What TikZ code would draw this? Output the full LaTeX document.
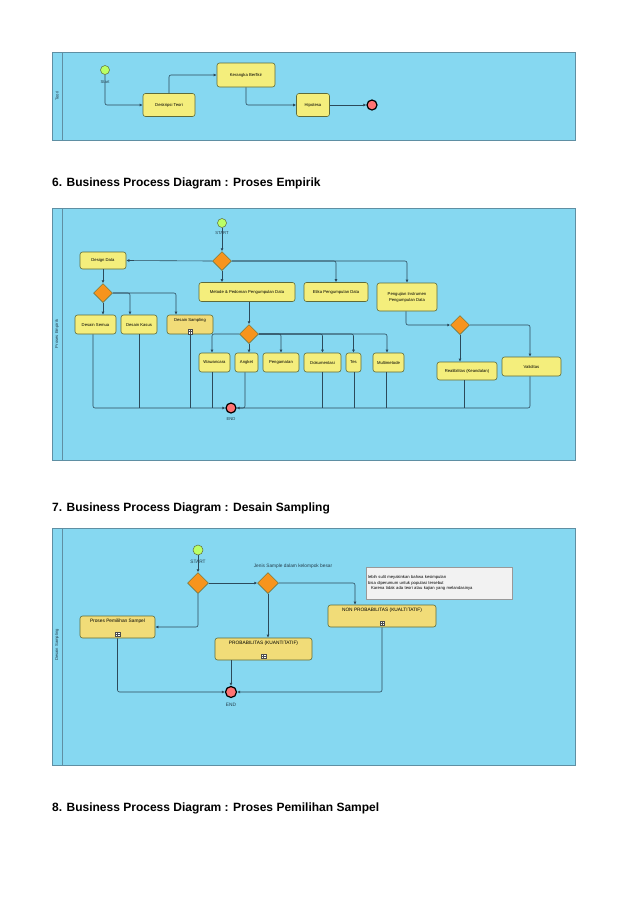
\documentclass[tikz,border=0pt]{standalone}
\usepackage{fontspec}
\setmainfont{Liberation Sans}
\usetikzlibrary{shapes.geometric,arrows.meta}
\definecolor{lane}{HTML}{86D8F1}
\definecolor{laneb}{HTML}{5F8FA3}
\definecolor{boxf}{HTML}{F4EE7C}
\definecolor{boxg}{HTML}{F1DC78}
\definecolor{boxb}{HTML}{5E6B3A}
\definecolor{dia}{HTML}{F7941D}
\definecolor{ln}{HTML}{2C4A5A}
\begin{document}
\begin{tikzpicture}[x=1pt,y=-1pt,
  lanebox/.style={draw=laneb,fill=lane,line width=0.8pt},
  task/.style={draw=boxb,fill=boxf,rounded corners=2.5pt,line width=0.6pt,font=\fontsize{4.2}{5}\selectfont,align=center,inner sep=0pt},
  sub/.style={task,fill=boxg},
  gw/.style={diamond,draw=boxb,fill=dia,line width=0.5pt,minimum size=19pt,inner sep=0pt},
  st/.style={circle,draw=boxb,fill=green!45!yellow!60,minimum size=9pt,inner sep=0pt,line width=0.5pt},
  en/.style={circle,draw=black,fill=red!55,minimum size=10pt,inner sep=0pt,line width=1.2pt},
  lbl/.style={font=\fontsize{4.2}{5}\selectfont,text=ln!80!black,inner sep=0pt},
  fl/.style={draw=ln,line width=0.6pt,rounded corners=2pt,-{Latex[length=3pt,width=3pt]}},
  pl/.style={draw=ln,line width=0.6pt,rounded corners=2pt},
  ttl/.style={font=\bfseries\fontsize{12}{14}\selectfont,anchor=west,inner sep=0pt},
  mk/.style={draw=black!70,fill=white,minimum size=4.5pt,inner sep=0pt,line width=0.3pt,
    path picture={\draw[black!70,line width=0.3pt] (path picture bounding box.north)--(path picture bounding box.south) (path picture bounding box.west)--(path picture bounding box.east);}}
]
\useasboundingbox[fill=white] (0,0) rectangle (638,903);
% ===== Panel 1 =====
\draw[lanebox] (52,52) rectangle (575,140);
\draw[laneb,line width=0.8pt] (62,52)--(62,140);
\node[lbl,rotate=90] (l1) at (57,96) {Teori};
\node[st] (s1) at (105,70) {};
\node[lbl] (s1t) at (105,82) {Start};
\node[task,minimum width=52pt,minimum height=23pt] (dt) at (169,105) {Deskripsi Teori};
\node[task,minimum width=58pt,minimum height=24pt] (kb) at (246,75) {Kerangka Berfikir};
\node[task,minimum width=33pt,minimum height=23pt] (hp) at (313,105) {Hipotesa};
\node[en] (e1) at (372,105) {};
\draw[fl] (s1.south) |- (dt.west);
\draw[fl] (dt.north) |- (kb.west);
\draw[fl] (kb.south) |- (hp.west);
\draw[fl] (hp.east) -- (e1.west);
% ===== Title 6 =====
\node[ttl] (t6) at (52,183) {6. Business Process Diagram : Proses Empirik};
% ===== Panel 2 =====
\draw[lanebox] (52,208) rectangle (575,460);
\draw[laneb,line width=0.8pt] (62,208)--(62,460);
\node[lbl,rotate=90] (l2) at (57,334) {Proses Empirik};
\node[st] (s2) at (222,223) {};
\node[lbl] (s2t) at (222,233) {START};
\node[gw] (g1) at (222,261) {};
\node[task,minimum width=46pt,minimum height=17pt] (dd) at (103,260.5) {Design Data};
\node[task,minimum width=96pt,minimum height=19pt] (mp) at (247,292) {Metode \& Pedoman Pengumpulan Data};
\node[task,minimum width=64pt,minimum height=19pt] (ep) at (336,292) {Etika Pengumpulan Data};
\node[task,minimum width=60pt,minimum height=28pt] (pi) at (407,297) {Pengujian Instrumen\\[1pt]Pengumpulan Data};
\node[gw] (g2) at (103,293) {};
\node[task,minimum width=41pt,minimum height=19pt] (ds) at (95.5,324.5) {Desain Semua};
\node[task,minimum width=36pt,minimum height=19pt] (dk) at (139,324.5) {Desain Kasus};
\node[sub,minimum width=46pt,minimum height=19pt] (dsp) at (190,324.5) {Desain Sampling\\[5pt]};
\node[mk] (mk1) at (190,331.5) {};
\node[gw] (g3) at (249,334) {};
\node[task,minimum width=31pt,minimum height=19pt] (ww) at (214.5,362.5) {Wawancara};
\node[task,minimum width=23pt,minimum height=19pt] (ak) at (246.5,362.5) {Angket};
\node[task,minimum width=36pt,minimum height=19pt] (pg) at (281,362.5) {Pengamatan};
\node[task,minimum width=37pt,minimum height=19pt] (dm) at (322.5,362.5) {Dokumentasi};
\node[task,minimum width=15pt,minimum height=19pt] (ts) at (353.5,362.5) {Tes};
\node[task,minimum width=31pt,minimum height=19pt] (mm) at (388.5,362.5) {Multimetode};
\node[gw] (g4) at (460,325) {};
\node[task,minimum width=60pt,minimum height=18pt] (rb) at (467,371) {Realibilitas (Keandalan)};
\node[task,minimum width=59pt,minimum height=19pt] (vd) at (531.5,366.5) {Validitas};
\node[en] (e2) at (231,408) {};
\node[lbl] (e2t) at (231,419) {END};
\draw[fl] (s2.south) -- (g1.north);
\draw[fl] (g1.west) -- (dd.east);
\draw[fl] (g1.south) -- (g1.south |- mp.north);
\draw[fl] (g1.east) -| (ep.north);
\draw[fl] (g1.east) -| (pi.north);
\draw[fl] (dd.south) -- (g2.north);
\draw[fl] (g2.south) -- (ds.north -| g2.south);
\draw[fl] (g2.east) -| ([xshift=-9pt]dk.north);
\draw[fl] (g2.east) -| ([xshift=-14pt]dsp.north);
\draw[fl] (mp.south -| g3.north) -- (g3.north);
\draw[fl] (g3.west) -| ([xshift=-2.5pt]ww.north);
\draw[fl] (g3.south) -- (ak.north -| g3.south);
\draw[fl] (g3.east) -| (pg.north);
\draw[fl] (g3.east) -| (dm.north);
\draw[fl] (g3.east) -| (ts.north);
\draw[fl] (g3.east) -| ([xshift=-1.5pt]mm.north);
\draw[fl] ([xshift=-1pt]pi.south) |- (g4.west);
\draw[fl] (g4.south) -- (rb.north -| g4.south);
\draw[fl] (g4.east) -| ([xshift=-1.5pt]vd.north);
\draw[fl] ([xshift=-2.5pt]ds.south) |- (e2.west);
\draw[pl] (dk.south) -- (dk.south |- e2.west);
\draw[pl] (dsp.south) -- (dsp.south |- e2.west);
\draw[pl] ([xshift=-2.5pt]ww.south) -- ([xshift=-2.5pt]ww.south |- e2.west);
\draw[pl] ([xshift=-1.5pt]ak.south) |- (e2.east);
\draw[fl] ([xshift=-1.5pt]vd.south) |- (e2.east);
\draw[pl] (dm.south) -- (dm.south |- e2.east);
\draw[pl] ([xshift=1pt]ts.south) -- ([xshift=1pt]ts.south |- e2.east);
\draw[pl] ([xshift=-2.5pt]mm.south) -- ([xshift=-2.5pt]mm.south |- e2.east);
\draw[pl] ([xshift=-3pt]rb.south) -- ([xshift=-3pt]rb.south |- e2.east);
% ===== Title 7 =====
\node[ttl] (t7) at (52,508) {7. Business Process Diagram : Desain Sampling};
% ===== Panel 3 =====
\draw[lanebox] (52,528) rectangle (575,765);
\draw[laneb,line width=0.8pt] (62,528)--(62,765);
\node[lbl,rotate=90] (l3) at (57,645) {Desain Sampling};
\node[st,minimum size=10pt] (s3) at (198,550) {};
\node[lbl,font=\fontsize{4.8}{5.5}\selectfont] (s3t) at (198,562) {START};
\node[gw,minimum size=21pt] (ga) at (198,583) {};
\node[gw,minimum size=21pt] (gb) at (268,583) {};
\node[lbl,font=\fontsize{4.8}{5.5}\selectfont] (jt) at (293,566) {Jenis Sample dalam kelompok besar};
\node[draw=black!40,fill=white!95!black,minimum width=146pt,minimum height=32pt,inner sep=2pt,anchor=north west,align=left,font=\fontsize{4.2}{5.6}\selectfont,text width=142pt] (nt) at (366,567) {lebih sulit meyakinkan bahwa kesimpulan\\bisa diperumum untuk populasi tersebut\\\ \ Karena tidak ada teori atau kajian yang melandasinya};
\node[sub,minimum width=108pt,minimum height=22pt,font=\fontsize{4.8}{5.5}\selectfont] (np) at (382,616) {NON PROBABILITAS (KUALTITATIF)\\[6pt]};
\node[mk] (mk2) at (382,623) {};
\node[sub,minimum width=75pt,minimum height=22pt,font=\fontsize{4.8}{5.5}\selectfont] (pp) at (117.5,627) {Proses Pemilihan Sampel\\[6pt]};
\node[mk] (mk3) at (117.5,634) {};
\node[sub,minimum width=97pt,minimum height=22pt,font=\fontsize{4.8}{5.5}\selectfont] (pb) at (263.5,649) {PROBABILITAS (KUANTITATIF)\\[6pt]};
\node[mk] (mk4) at (263.5,656) {};
\node[en,minimum size=11pt] (e3) at (231,692) {};
\node[lbl,font=\fontsize{4.8}{5.5}\selectfont] (e3t) at (231,705) {END};
\draw[fl] (s3.south) -- (ga.north);
\draw[fl] (ga.east) -- (gb.west);
\draw[fl] (ga.south) |- (pp.east);
\draw[fl] (gb.east) -| ([xshift=-27pt]np.north);
\draw[fl] (gb.south) -- (pb.north -| gb.south);
\draw[fl] (pp.south) |- (e3.west);
\draw[fl] ([xshift=-32.5pt]pb.south) -- (e3.north);
\draw[fl] (np.south) |- (e3.east);
% ===== Title 8 =====
\node[ttl] (t8) at (52,808) {8. Business Process Diagram : Proses Pemilihan Sampel};
\end{tikzpicture}
\end{document}
